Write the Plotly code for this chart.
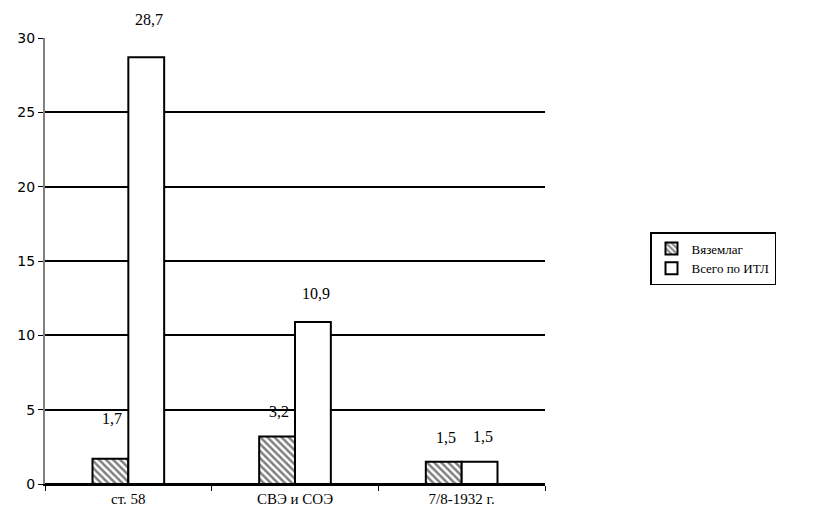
import plotly.graph_objects as go

categories = ["ст. 58", "СВЭ и СОЭ", "7/8-1932 г."]
vyazemlag = [1.7, 3.2, 1.5]
vsego_itl = [28.7, 10.9, 1.5]
series_names = ["Вяземлаг", "Всего по ИТЛ"]
y_ticks = [0, 5, 10, 15, 20, 25, 30]

# label offsets (pixels above bar top), style only
label_lift_1 = [40, 25, 24]
label_lift_2 = [38, 28, 25]

SERIF = "Times New Roman, Liberation Serif, serif"

def fmt(v):
    return f"{v:.1f}".replace(".", ",")

fig = go.Figure()
fig.add_trace(go.Bar(
    x=categories, y=vyazemlag, name=series_names[0],
    marker=dict(color="white", line=dict(color="black", width=2),
                pattern=dict(shape="\\", fgcolor="black", bgcolor="white", size=5, solidity=0.5)),
))
fig.add_trace(go.Bar(
    x=categories, y=vsego_itl, name=series_names[1],
    marker=dict(color="white", line=dict(color="black", width=2)),
))

annotations = []
for c, v, s in zip(categories, vyazemlag, label_lift_1):
    annotations.append(dict(x=c, y=v, text=fmt(v), showarrow=False, xshift=-16, yshift=s,
                            font=dict(family=SERIF, size=16, color="black")))
for c, v, s in zip(categories, vsego_itl, label_lift_2):
    annotations.append(dict(x=c, y=v, text=fmt(v), showarrow=False, xshift=21, yshift=s,
                            font=dict(family=SERIF, size=16, color="black")))

fig.update_layout(
    width=801, height=502,
    margin=dict(l=37, r=264, t=30, b=26),
    plot_bgcolor="white", paper_bgcolor="white",
    barmode="group", bargap=0.57, bargroupgap=0,
    showlegend=True,
    legend=dict(x=1.21, y=0.565, xanchor="left", yanchor="top",
                bordercolor="black", borderwidth=1.5,
                font=dict(family=SERIF, size=13, color="black"),
                itemwidth=30, tracegroupgap=8),
    annotations=annotations,
)
fig.update_xaxes(
    automargin=False,
    showline=True, linecolor="black", linewidth=2,
    ticks="outside", tickson="boundaries", ticklen=5, tickcolor="black",
    tickfont=dict(family=SERIF, size=15, color="black"),
    showgrid=False,
)
fig.update_yaxes(
    automargin=False,
    range=[0, 30], tickvals=y_ticks,
    showline=True, linecolor="#808080", linewidth=2,
    ticks="outside", ticklen=5, tickcolor="black",
    tickfont=dict(family="DejaVu Sans", size=14, color="black"),
    showgrid=True, gridcolor="black", gridwidth=2,
    zeroline=True, zerolinecolor="black", zerolinewidth=2,
)

fig.write_html("out.html")
